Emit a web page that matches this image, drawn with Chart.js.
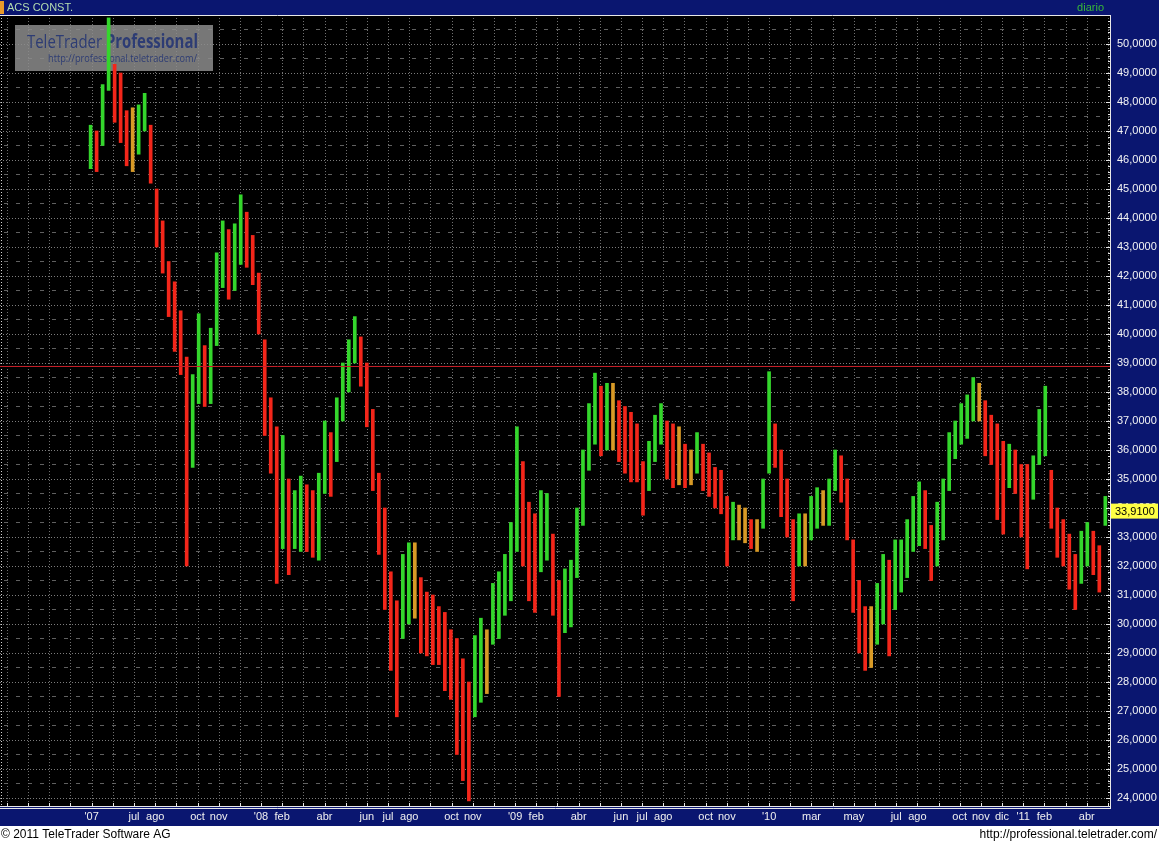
<!DOCTYPE html>
<html><head><meta charset="utf-8">
<script src="https://cdn.jsdelivr.net/npm/chart.js@4.4.0/dist/chart.umd.min.js"></script>
<style>html,body{margin:0;padding:0;background:#fff;overflow:hidden}canvas{display:block}</style>
</head><body><canvas id="c" width="1159" height="844"></canvas>
<script>
// ---------- DATA ----------
const title = 'ACS CONST.';
const period = 'diario';
// weekly-ish bars, high / low (EUR), from late Apr 2007 to late Apr 2011
const highs = [47.2,47.0,48.6,50.9,49.3,49.0,47.7,47.8,47.9,48.3,
47.2,45.0,43.9,42.5,41.8,40.8,39.2,38.6,40.7,39.6,
40.2,42.8,43.9,43.6,43.8,44.8,44.2,43.4,42.1,39.8,
37.8,36.8,36.5,35.0,34.6,35.1,34.8,34.6,35.2,37.0,
36.6,37.8,39.0,39.8,40.6,39.9,39.0,37.4,35.2,34.0,
31.8,30.8,32.4,32.8,32.8,31.6,31.1,31.0,30.6,30.4,
29.8,29.5,28.8,28.0,29.6,30.2,29.8,31.4,31.8,32.4,
33.5,36.8,35.6,34.2,33.8,34.6,34.5,33.1,31.5,31.9,
32.2,34.0,36.0,37.6,38.65,38.2,38.3,38.3,37.7,37.5,
37.3,36.9,35.6,36.3,37.2,37.6,37.0,36.9,36.8,36.2,
36.0,36.6,36.2,35.9,35.4,35.3,34.4,34.2,34.1,34.0,
33.6,33.6,35.0,38.7,36.9,36.0,35.0,33.6,33.8,33.8,
34.4,34.7,34.6,35.0,36.0,35.8,35.0,32.9,31.5,30.6,
30.6,31.4,32.4,32.2,32.9,32.9,33.6,34.4,34.9,34.6,
33.4,34.2,35.0,36.6,37.0,37.6,37.9,38.5,38.3,37.7,
37.2,36.9,36.3,36.2,36.0,35.5,35.5,35.8,37.4,38.2,
35.3,34.0,33.6,33.1,32.4,33.2,33.5,33.2,32.7,34.4];
const lows = [45.7,45.6,46.5,48.4,47.3,46.6,45.8,45.6,46.2,47.0,
45.2,43.0,42.1,40.6,39.4,38.6,32.0,35.4,37.6,37.5,
37.6,39.6,41.6,41.2,41.5,42.4,42.3,41.7,40.0,36.5,
35.2,31.4,32.6,31.7,32.6,32.5,32.5,32.3,32.2,34.5,
34.4,35.6,37.0,38.0,39.0,38.2,36.8,34.6,32.4,30.5,
28.4,26.8,29.5,30.0,30.2,29.0,28.9,28.6,28.6,27.7,
27.4,25.5,24.6,23.9,26.8,27.3,27.6,29.3,29.5,30.3,
30.8,32.5,32.0,30.8,30.4,31.8,32.2,30.3,27.5,29.7,
29.9,31.6,33.4,35.3,36.2,35.8,36.0,36.0,35.6,35.2,
34.9,34.9,33.75,34.6,35.6,36.2,35.0,34.7,34.8,34.7,
34.8,35.2,34.6,34.4,34.0,33.8,32.0,32.9,32.9,32.8,
32.6,32.5,33.3,35.2,35.4,33.7,33.0,30.8,32.0,32.0,
32.9,33.3,33.4,33.4,34.6,34.2,32.9,30.4,29.0,28.4,
28.5,29.3,30.0,28.9,30.5,31.1,31.6,32.5,32.7,32.6,
31.5,32.0,32.9,34.6,35.7,36.2,36.4,37.0,37.0,35.8,
35.5,33.6,33.1,34.7,34.5,33.0,31.9,34.3,35.5,35.8,
33.3,32.3,32.0,31.2,30.5,31.4,32.0,31.7,31.1,33.4];
const lastPrice = 33.91;
const resistanceLevel = 38.88;
const firstBarMonth = 3.95;      // months since Jan 2007
const barStepMonths = 0.2836;    // one week
const monthLabels = {4:"'07",6:'jul',7:'ago',9:'oct',10:'nov',12:"'08",13:'feb',15:'abr',17:'jun',18:'jul',19:'ago',
  21:'oct',22:'nov',24:"'09",25:'feb',27:'abr',29:'jun',30:'jul',31:'ago',33:'oct',34:'nov',36:"'10",38:'mar',40:'may',
  42:'jul',43:'ago',45:'oct',46:'nov',47:'dic',48:"'11",49:'feb',51:'abr'};
const yTicks = [24,25,26,27,28,29,30,31,32,33,34,35,36,37,38,39,40,41,42,43,44,45,46,47,48,49,50];
const xMin = -0.33, xMax = 52.1, yMin = 23.724, yMax = 51.0;

// ---------- BUILD ----------
const bars = highs.map((h,i)=>({x:firstBarMonth+i*barStepMonths, y:[lows[i],h]}));
const mids = highs.map((h,i)=>(h+lows[i])/2);
const GREEN='#34d62c', RED='#f3261a', ORANGE='#d89a26';
const barColors = mids.map((m,i)=>{ if(i===0) return GREEN; const d=m-mids[i-1]; if(Math.abs(d)<0.12) return ORANGE; return d>0?GREEN:RED; });

const NAVY='#0a1670';
const FONT='"Liberation Sans", Arial, sans-serif';
const fmt = v => v.toFixed(4).replace('.',',');

const deco = {
  id:'deco',
  beforeDraw(chart){
    const {ctx, chartArea:a} = chart;
    ctx.save();
    ctx.fillStyle='#000'; ctx.fillRect(0,0,1159,844);
    ctx.fillStyle=NAVY;
    ctx.fillRect(0,0,1159,a.top);
    ctx.fillRect(a.right,a.top,1159-a.right,826-a.top);
    ctx.fillRect(0,a.bottom,a.right,826-a.bottom);
    ctx.fillStyle='#fff'; ctx.fillRect(0,826,1159,18);
    // title bar
    ctx.fillStyle='#e89a2a'; ctx.fillRect(0,1,4,13);
    ctx.font='11px '+FONT; ctx.textBaseline='middle';
    ctx.fillStyle='#b4dcb0'; ctx.textAlign='left'; ctx.fillText(title,7,8);
    ctx.fillStyle='#38b838'; ctx.textAlign='right'; ctx.fillText(period,1104,8);
    // footer
    ctx.fillStyle='#000'; ctx.font='12px '+FONT;
    ctx.textAlign='left'; ctx.fillText('\u00A9 2011 TeleTrader Software AG',1,835);
    ctx.textAlign='right'; ctx.fillText('http://professional.teletrader.com/',1157,835);
    ctx.restore();
  },
  beforeDatasetsDraw(chart){
    const {ctx, chartArea:a, scales:{x,y}} = chart;
    ctx.save();
    ctx.beginPath(); ctx.rect(a.left,a.top,a.width,a.height); ctx.clip();
    ctx.lineWidth=1;
    // horizontal grid
    ctx.strokeStyle='#7c7c7c'; ctx.setLineDash([1,2]);
    yTicks.forEach(v=>{ const p=Math.round(y.getPixelForValue(v))+0.5; ctx.beginPath(); ctx.moveTo(a.left,p); ctx.lineTo(a.right,p); ctx.stroke(); });
    ctx.strokeStyle='#606060'; ctx.setLineDash([4,8]);
    yTicks.forEach(v=>{ const p=Math.round(y.getPixelForValue(v+0.5))+0.5; ctx.beginPath(); ctx.moveTo(a.left+4,p); ctx.lineTo(a.right,p); ctx.stroke(); });
    // vertical grid (months)
    ctx.strokeStyle='#707070'; ctx.setLineDash([1,2]);
    for(let m=0;m<=52;m++){ const p=Math.round(x.getPixelForValue(m))+0.5; ctx.beginPath(); ctx.moveTo(p,a.top); ctx.lineTo(p,a.bottom); ctx.stroke(); }
    // left dotted border
    ctx.strokeStyle='#d0d0d0'; ctx.setLineDash([1,2]);
    ctx.beginPath(); ctx.moveTo(1.5,a.top); ctx.lineTo(1.5,a.bottom); ctx.stroke();
    ctx.setLineDash([]);
    // watermark
    ctx.fillStyle='rgba(140,140,140,0.85)'; ctx.fillRect(15,25,198,46);
    ctx.fillStyle='#2d3c74'; ctx.textBaseline='alphabetic'; ctx.textAlign='left';
    const f1='19px "Open Sans", sans-serif', f2='bold 19px "Open Sans", sans-serif';
    ctx.font=f1; const w1=ctx.measureText('TeleTrader ').width;
    ctx.font=f2; const w2=ctx.measureText('Professional').width;
    const sc=171/(w1+w2);
    ctx.save(); ctx.translate(27,48); ctx.scale(sc,1);
    ctx.font=f1; ctx.fillText('TeleTrader ',0,0);
    ctx.font=f2; ctx.fillText('Professional',w1,0);
    ctx.restore();
    ctx.font='10px "Open Sans", sans-serif';
    const uw=ctx.measureText('http://professional.teletrader.com/').width;
    ctx.save(); ctx.translate(48,62); ctx.scale(149/uw,1); ctx.fillText('http://professional.teletrader.com/',0,0); ctx.restore();
    ctx.restore();
  },
  afterDraw(chart){
    const {ctx, chartArea:a, scales:{x,y}} = chart;
    ctx.save();
    ctx.strokeStyle='#e8e8e8'; ctx.lineWidth=1;
    // plot frame lines
    ctx.beginPath(); ctx.moveTo(0,a.top+0.5); ctx.lineTo(a.right,a.top+0.5); ctx.stroke();
    ctx.beginPath(); ctx.moveTo(0,a.bottom+0.5); ctx.lineTo(a.right+1,a.bottom+0.5); ctx.stroke();
    ctx.beginPath(); ctx.moveTo(0,a.bottom+2.5); ctx.lineTo(a.right+1,a.bottom+2.5); ctx.stroke();
    ctx.beginPath(); ctx.moveTo(a.right+0.5,a.top); ctx.lineTo(a.right+0.5,a.bottom+3); ctx.stroke();
    // y axis ticks
    yTicks.forEach(v=>{
      for(let s=0;s<5;s++){ const vv=v+s*0.2; if(vv>yMax) break; const p=Math.round(y.getPixelForValue(vv))+0.5;
        ctx.beginPath(); ctx.moveTo(a.right-(s===0?4:2),p); ctx.lineTo(a.right,p); ctx.stroke(); }
    });
    // x axis ticks
    for(let m=0;m<=52;m++){ const p=Math.round(x.getPixelForValue(m))+0.5; ctx.beginPath(); ctx.moveTo(p,a.bottom-3); ctx.lineTo(p,a.bottom); ctx.stroke(); }
    // last price label
    const py=y.getPixelForValue(lastPrice);
    ctx.fillStyle='#ffff44'; ctx.fillRect(a.right+1,py-7,47,15);
    ctx.fillStyle='#000'; ctx.font='11px '+FONT; ctx.textAlign='left'; ctx.textBaseline='middle';
    ctx.fillText(fmt(lastPrice),a.right+5,py+1);
    ctx.restore();
  }
};

new Chart(document.getElementById('c'), {
  data:{ datasets:[
    { type:'line', data:[{x:xMin,y:resistanceLevel},{x:xMax,y:resistanceLevel}], borderColor:'#c8202a', borderWidth:1, pointRadius:0, order:0 },
    { type:'bar', data:bars, backgroundColor:barColors, borderWidth:0, barThickness:3, grouped:false, order:1 }
  ]},
  options:{
    responsive:false, animation:false, devicePixelRatio:1,
    layout:{padding:{top:15,left:0,right:0,bottom:0}},
    plugins:{legend:{display:false}, tooltip:{enabled:false}},
    scales:{
      x:{ type:'linear', min:xMin, max:xMax, offset:false,
        grid:{display:false, drawTicks:false}, border:{display:false},
        afterBuildTicks:s=>{ const t=[]; for(let m=0;m<=52;m++) t.push({value:m}); s.ticks=t; },
        afterFit:s=>{ s.height=38; },
        ticks:{ autoSkip:false, maxRotation:0, padding:4, color:'#f0f0f0', font:{family:'"Liberation Sans", Arial, sans-serif', size:11},
          callback:v=>monthLabels[v]||'' } },
      y:{ type:'linear', position:'right', min:yMin, max:yMax,
        grid:{display:false, drawTicks:false}, border:{display:false},
        afterBuildTicks:s=>{ s.ticks=yTicks.map(v=>({value:v})); },
        afterFit:s=>{ s.width=49; },
        ticks:{ padding:7, color:'#f4f4f4', font:{family:'"Liberation Sans", Arial, sans-serif', size:11}, callback:v=>fmt(v) } }
    }
  },
  plugins:[deco]
});
</script>
</body></html>
